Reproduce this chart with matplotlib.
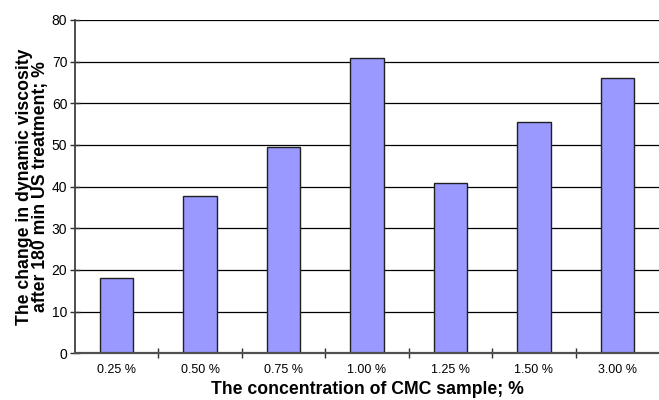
import matplotlib
matplotlib.use("Agg")
import matplotlib.pyplot as plt
import numpy as np

categories = ["0.25 %", "0.50 %", "0.75 %", "1.00 %", "1.25 %", "1.50 %", "3.00 %"]
viscosity_change = [18.0, 37.8, 49.6, 70.9, 40.8, 55.5, 66.1]
y_ticks = [0, 10, 20, 30, 40, 50, 60, 70, 80]

plt.rcParams["font.family"] = ["Liberation Sans", "DejaVu Sans"]

fig = plt.figure(figsize=(6.59, 4.00), dpi=100)
ax = fig.add_axes([75 / 659, 1 - 353.3 / 400, 584 / 659, 333.3 / 400])

x = np.arange(len(categories))
ax.bar(x, viscosity_change, width=0.4, color="#9999FF", edgecolor="#202020",
       linewidth=1.0, zorder=3)

ax.set_xlim(-0.5, len(categories) - 0.5)
ax.set_ylim(0, 80)

ax.set_yticks(y_ticks)
ax.yaxis.grid(True, color="black", linewidth=0.9, zorder=0)
ax.set_axisbelow(True)

# category boundaries carry the tick marks, labels sit at the bar centres
ax.set_xticks(np.arange(len(categories) - 1) + 0.5)
ax.set_xticklabels([])
ax.set_xticks(x, minor=True)
ax.set_xticklabels(categories, minor=True, fontsize=9)
ax.tick_params(axis="x", which="minor", length=0, pad=8)
ax.tick_params(axis="x", which="major", direction="inout", length=7, width=1.0,
               color="#303030")
ax.tick_params(axis="y", direction="inout", length=7, width=1.0, color="#303030",
               labelsize=10, pad=2)

for side in ("right", "top"):
    ax.spines[side].set_visible(False)
ax.spines["left"].set_color("#404040")
ax.spines["left"].set_linewidth(1.3)
ax.spines["bottom"].set_color("#505050")
ax.spines["bottom"].set_linewidth(1.6)
ax.spines["bottom"].set_zorder(4)

ax.set_xlabel("The concentration of CMC sample; %", fontsize=12.7,
              fontweight="bold", labelpad=3)
ax.set_ylabel("The change in dynamic viscosity\nafter 180 min US treatment; %",
              fontsize=12.7, fontweight="bold", labelpad=2, linespacing=0.95)

fig.savefig("out.png", dpi=100)
